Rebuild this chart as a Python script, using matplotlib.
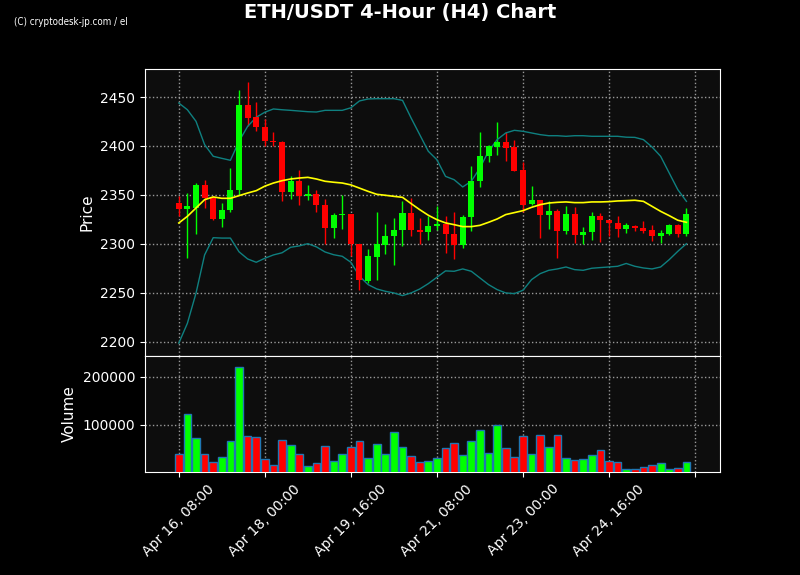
import matplotlib
matplotlib.use('Agg')
import matplotlib.pyplot as plt
import numpy as np

# H4 candles
opens = [2341.8, 2335.4, 2337.0, 2360.2, 2348.0, 2325.2, 2334.3, 2354.8, 2442.2, 2429.3,
         2419.7, 2405.4, 2404.4, 2352.7, 2364.6, 2348.6, 2351.4, 2340.1, 2316.0, 2329.3,
         2331.0, 2300.3, 2262.6, 2286.4, 2299.0, 2307.8, 2314.0, 2331.6, 2314.6, 2311.9,
         2318.0, 2320.8, 2310.5, 2298.6, 2327.2, 2364.0, 2389.5, 2398.6, 2404.4, 2398.6,
         2375.2, 2340.5, 2345.2, 2329.3, 2334.0, 2313.0, 2330.6, 2308.8, 2311.9, 2328.9,
         2324.8, 2321.4, 2315.3, 2318.7, 2316.7, 2314.6, 2307.8, 2309.9, 2319.7, 2309.9]
highs = [2348.6, 2352.0, 2362.0, 2365.6, 2349.0, 2341.8, 2377.6, 2457.5, 2465.0, 2444.6,
         2427.6, 2414.3, 2405.4, 2369.0, 2375.8, 2360.2, 2354.8, 2346.0, 2331.6, 2350.0,
         2331.0, 2300.3, 2294.9, 2332.7, 2320.4, 2326.5, 2343.5, 2347.0, 2326.5, 2328.2,
         2339.0, 2328.2, 2332.3, 2330.0, 2379.3, 2414.3, 2401.4, 2424.1, 2414.3, 2405.8,
         2383.3, 2358.8, 2345.2, 2343.5, 2335.7, 2338.4, 2337.4, 2317.3, 2332.3, 2331.6,
         2324.8, 2328.2, 2321.4, 2319.4, 2323.5, 2319.4, 2314.3, 2320.5, 2320.8, 2336.7]
lows = [2328.2, 2285.7, 2310.0, 2336.7, 2324.0, 2317.7, 2332.3, 2350.3, 2420.0, 2415.6,
        2399.7, 2400.3, 2343.5, 2346.0, 2339.8, 2344.6, 2332.7, 2300.3, 2306.0, 2315.3,
        2287.4, 2252.7, 2260.2, 2263.6, 2290.0, 2279.0, 2298.3, 2308.5, 2300.3, 2304.4,
        2314.0, 2290.8, 2284.7, 2296.0, 2313.0, 2358.2, 2383.3, 2391.2, 2385.0, 2374.1,
        2332.3, 2339.8, 2306.0, 2315.3, 2285.7, 2310.5, 2301.0, 2300.3, 2304.4, 2302.0,
        2308.5, 2307.0, 2311.2, 2313.3, 2311.2, 2303.4, 2301.0, 2309.5, 2307.0, 2308.5]
closes = [2335.4, 2339.0, 2360.2, 2347.3, 2325.2, 2335.0, 2355.4, 2442.2, 2428.2, 2419.0,
          2404.8, 2403.7, 2352.7, 2364.6, 2348.6, 2351.4, 2339.5, 2316.0, 2330.0, 2331.0,
          2299.7, 2263.6, 2287.4, 2299.7, 2308.5, 2314.6, 2331.6, 2314.0, 2311.9, 2318.7,
          2320.8, 2309.9, 2298.6, 2327.6, 2364.6, 2390.0, 2399.7, 2404.4, 2397.6, 2374.1,
          2340.1, 2345.2, 2329.3, 2334.0, 2313.0, 2330.6, 2308.8, 2312.2, 2328.9, 2324.2,
          2321.0, 2315.3, 2319.5, 2316.0, 2313.6, 2307.8, 2310.9, 2319.7, 2309.9, 2331.0]
volumes = [39600, 122900, 72900, 39600, 22900, 33300, 67300, 220800, 77100, 75000,
           29200, 16700, 68800, 58300, 39600, 14600, 20800, 56300, 25000, 39600,
           54200, 66700, 31300, 60400, 39600, 85400, 54200, 35400, 22900, 25000,
           31300, 52100, 62500, 37500, 66700, 89600, 41700, 100000, 52100, 33300,
           77100, 39600, 79200, 54200, 79200, 31300, 27100, 29200, 37500, 47900,
           25000, 22900, 8300, 8300, 12500, 16700, 20800, 8300, 10400, 22900]

# 20-period SMA and Bollinger bands
sma = [2321.4, 2328.2, 2336.7, 2345.2, 2348.0, 2346.6, 2346.6, 2349.3, 2352.0, 2354.4,
       2359.0, 2362.2, 2364.6, 2366.3, 2367.3, 2368.0, 2366.3, 2364.0, 2363.0, 2362.2,
       2360.3, 2357.0, 2353.7, 2350.7, 2349.7, 2348.6, 2347.6, 2341.2, 2335.0, 2329.3,
       2324.8, 2321.5, 2319.7, 2317.7, 2317.7, 2319.0, 2322.1, 2325.5, 2330.0, 2332.0,
       2334.0, 2337.4, 2340.1, 2341.8, 2342.5, 2342.9, 2342.2, 2342.2, 2342.9, 2342.9,
       2343.2, 2343.9, 2344.2, 2344.6, 2343.5, 2338.4, 2333.3, 2328.9, 2324.2, 2322.1]
upper = [2443.9, 2437.0, 2425.2, 2401.4, 2389.5, 2387.4, 2385.4, 2404.8, 2420.0, 2429.3,
         2434.5, 2437.8, 2437.0, 2436.4, 2435.7, 2435.0, 2434.7, 2436.4, 2436.4, 2436.4,
         2439.0, 2446.0, 2448.0, 2448.3, 2448.3, 2448.3, 2446.6, 2428.6, 2411.6, 2394.6,
         2386.0, 2369.0, 2365.6, 2358.2, 2364.0, 2377.6, 2394.6, 2406.5, 2413.3, 2416.0,
         2415.0, 2413.3, 2411.6, 2410.5, 2410.5, 2409.9, 2410.5, 2410.5, 2409.9, 2409.9,
         2409.9, 2409.9, 2409.0, 2408.8, 2406.5, 2399.0, 2389.5, 2372.4, 2355.4, 2343.5]
lower = [2198.7, 2219.0, 2249.7, 2288.8, 2306.4, 2306.0, 2306.0, 2292.0, 2284.7, 2281.3,
         2285.4, 2288.8, 2291.0, 2296.6, 2298.0, 2300.3, 2297.0, 2291.8, 2289.0, 2287.4,
         2281.3, 2267.0, 2258.5, 2254.1, 2251.7, 2250.0, 2247.3, 2250.0, 2254.0, 2259.5,
         2266.0, 2272.5, 2272.1, 2274.5, 2272.1, 2265.3, 2258.5, 2253.4, 2250.0, 2249.3,
         2252.7, 2263.6, 2269.7, 2273.1, 2274.5, 2276.5, 2273.8, 2273.1, 2275.2, 2275.9,
         2276.5, 2277.2, 2280.1, 2277.2, 2275.5, 2274.5, 2276.5, 2284.0, 2292.5, 2300.3]

tick_pos = [0, 10, 20, 30, 40, 50, 60]
tick_labels = ['Apr 16, 08:00', 'Apr 18, 00:00', 'Apr 19, 16:00', 'Apr 21, 08:00',
               'Apr 23, 00:00', 'Apr 24, 16:00', '']

up_color = '#00ff00'
down_color = '#ff0000'
panel_bg = '#0d0d0d'

x = np.arange(len(opens))
o = np.array(opens)
c = np.array(closes)
colors = [up_color if cc >= oo else down_color for oo, cc in zip(o, c)]

fig = plt.figure(figsize=(8, 5.75), dpi=100, facecolor='black')
ax = fig.add_axes([0.181, 0.381, 0.719, 0.499])
axv = fig.add_axes([0.181, 0.179, 0.719, 0.202], sharex=ax)

for a in (ax, axv):
    a.set_facecolor(panel_bg)
    for s in a.spines.values():
        s.set_color('white')
    a.tick_params(colors='white', labelsize=10)
    a.grid(True, color='#999999', linestyle=':', linewidth=1)
    a.set_axisbelow(True)

# candles
ax.vlines(x, lows, highs, colors=colors, linewidth=1, zorder=2)
ax.bar(x, np.abs(c - o), width=0.7, bottom=np.minimum(o, c), color=colors, zorder=3)

ax.plot(x, upper, color='#0f8080', linewidth=1, zorder=2)
ax.plot(x, lower, color='#0f8080', linewidth=1, zorder=2)
ax.plot(x, sma, color='#ffff00', linewidth=1.2, zorder=4)

ax.set_ylim(2185.7, 2478.6)
ax.set_yticks([2200, 2250, 2300, 2350, 2400, 2450])
ax.set_ylabel('Price', color='white', fontsize=11)
plt.setp(ax.get_xticklabels(), visible=False)

# volume
axv.bar(x, volumes, width=0.9, color=colors, edgecolor='#1f77b4', linewidth=1, zorder=3)
axv.set_ylim(2000, 243000)
axv.set_yticks([100000, 200000])
axv.set_ylabel('Volume', color='white', fontsize=11)

axv.set_xlim(-3.95, 62.9)
axv.set_xticks(tick_pos)
axv.set_xticklabels(tick_labels, rotation=45)

fig.suptitle('ETH/USDT 4-Hour (H4) Chart', color='white', fontsize=14,
             fontweight='bold', y=0.995)
fig.text(0.018, 0.956, '(C) cryptodesk-jp.com / el', color='white', fontsize=7,
         family='DejaVu Sans', fontstretch='condensed')

plt.savefig('out.png', facecolor='black')
